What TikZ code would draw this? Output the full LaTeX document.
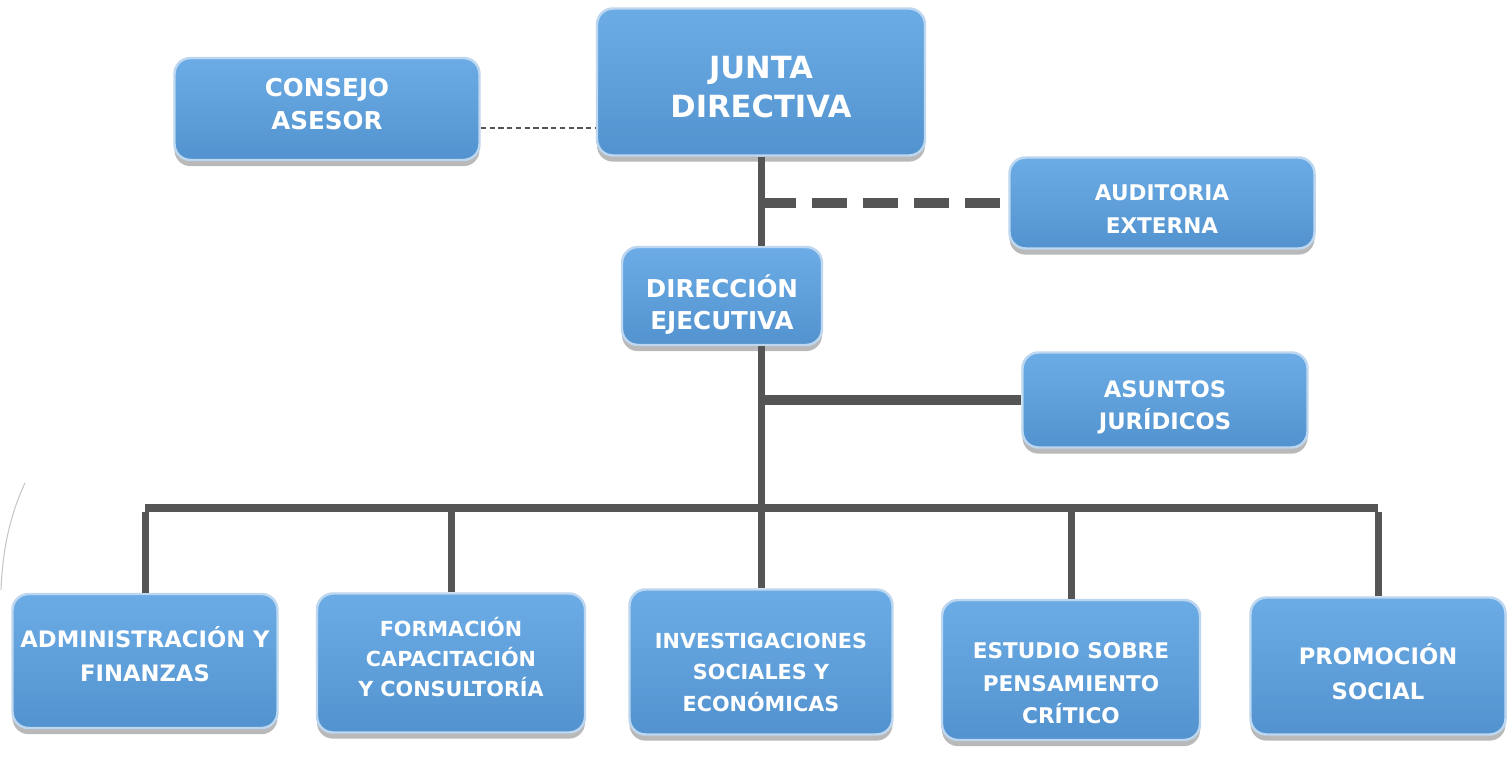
\documentclass[tikz,border=0pt]{standalone}
\usepackage{fontspec}
\setmainfont{DejaVu Sans}
\usepackage{tikz}
\usetikzlibrary{positioning, calc, shadows}
\definecolor{boxblue}{RGB}{88,154,214}
\definecolor{boxtop}{RGB}{108,172,230}
\definecolor{boxbot}{RGB}{82,146,206}
\definecolor{linegray}{RGB}{85,85,85}
\tikzstyle{unit} = [rectangle, rounded corners=0.32cm, draw=white!60!boxblue, line width=1.4pt, top color=boxtop, middle color=boxblue, bottom color=boxbot, text=white, align=center, font=\bfseries, drop shadow={shadow xshift=0pt, shadow yshift=-3.5pt, opacity=0.5, fill=black!55}]
\tikzstyle{line} = [linegray, line width=0.14cm]
\tikzstyle{dashline} = [linegray, line width=0.2cm, dash pattern=on 0.7cm off 0.32cm]
\tikzstyle{thindash} = [linegray, line width=0.9pt, dash pattern=on 3pt off 2pt]

\begin{document}
\begin{tikzpicture}
\useasboundingbox (0,0) rectangle (30.14,-15.36);
%----------------------------------------------------------------------------
% Placement of units
\node (junta) [unit, minimum width=6.56cm, minimum height=2.94cm, font=\bfseries\fontsize{17.4}{22}\selectfont] at (15.22,-1.64) {JUNTA\\DIRECTIVA\\[-0.98cm]};
\node (consejo) [unit, minimum width=6.1cm, minimum height=2.04cm, font=\bfseries\fontsize{14}{18.7}\selectfont] at (6.54,-2.18) {CONSEJO\\ASESOR\\[-0.46cm]};
\node (auditoria) [unit, minimum width=6.1cm, minimum height=1.82cm, font=\bfseries\fontsize{12.3}{18.7}\selectfont] at (23.24,-4.06) {AUDITORIA\\EXTERNA\\[-0.9cm]};
\node (direccion) [unit, minimum width=4cm, minimum height=1.96cm, font=\bfseries\fontsize{14}{18.7}\selectfont] at (14.44,-5.92) {DIRECCIÓN\\EJECUTIVA\\[-0.9cm]};
\node (asuntos) [unit, minimum width=5.7cm, minimum height=1.9cm, font=\bfseries\fontsize{12.9}{18.7}\selectfont] at (23.3,-8.0) {ASUNTOS\\JURÍDICOS\\[-0.86cm]};

% departments
\node (admin) [unit, minimum width=5.3cm, minimum height=2.68cm, font=\bfseries\fontsize{12.9}{19}\selectfont] at (2.9,-13.22) {ADMINISTRACIÓN Y\\FINANZAS\\[-0.39cm]};
\node (formacion) [unit, minimum width=5.36cm, minimum height=2.78cm, font=\bfseries\fontsize{11.8}{17}\selectfont] at (9.02,-13.26) {FORMACIÓN\\CAPACITACIÓN\\Y CONSULTORÍA\\[-0.36cm]};
\node (investig) [unit, minimum width=5.26cm, minimum height=2.9cm, font=\bfseries\fontsize{11.8}{18}\selectfont] at (15.22,-13.24) {INVESTIGACIONES\\SOCIALES Y\\ECONÓMICAS\\[-1.03cm]};
\node (estudio) [unit, minimum width=5.16cm, minimum height=2.8cm, font=\bfseries\fontsize{12.3}{18.4}\selectfont] at (21.42,-13.4) {ESTUDIO SOBRE\\PENSAMIENTO\\CRÍTICO\\[-1.17cm]};
\node (promocion) [unit, minimum width=5.1cm, minimum height=2.74cm, font=\bfseries\fontsize{12.9}{19.8}\selectfont] at (27.56,-13.32) {PROMOCIÓN\\SOCIAL\\[-0.9cm]};

\coordinate (bus) at (15.22,-10.24);

%----------------------------------------------------------------------------
% Draw lines
\draw [thindash] ([yshift=-0.38cm]consejo.east) -- ([yshift=-0.38cm]consejo.east -| junta.west);
\draw [line] (junta.south) -- (junta.south |- direccion.north);
\draw [dashline] (junta.south |- auditoria.west) -- (auditoria.west);
\draw [line] (junta.south |- direccion.south) -- (bus);
\draw [line, line width=0.2cm] (junta.south |- asuntos.west) -- (asuntos.west);

% departments bus
\draw [line, line width=0.16cm] ($(admin.north |- bus)+(0,0.08)$) -- ($(promocion.north |- bus)+(0,0.08)$);
\foreach \dep in {admin, formacion, investig, estudio, promocion}
  \draw [line] (\dep.north |- bus) -- (\dep.north);

% stray stroke on the left edge
\draw [gray!45, line width=0.6pt] (0.5,-9.66) .. controls (0.2,-10.3) and (0.05,-11.0) .. (0.02,-11.8);
\end{tikzpicture}
\end{document}
